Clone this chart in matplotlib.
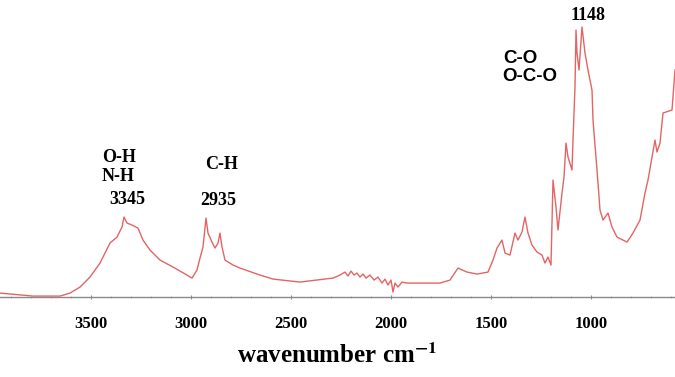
import matplotlib
matplotlib.use("Agg")
import matplotlib.pyplot as plt
from matplotlib.ticker import MultipleLocator

# FTIR spectrum (wavenumber cm-1, arbitrary absorbance units)
wavenumber = [3955, 3790, 3655, 3605, 3555, 3505, 3455, 3405, 3370, 3345, 3335, 3320,
              3295, 3265, 3240, 3205, 3155, 3090, 3020, 2995, 2970, 2955, 2940, 2925,
              2915, 2895, 2880, 2865, 2855, 2845, 2830, 2790, 2755, 2655, 2590, 2455,
              2290, 2255, 2230, 2215, 2200, 2185, 2170, 2155, 2140, 2125, 2105, 2085,
              2065, 2045, 2030, 2015, 2000, 1990, 1980, 1965, 1945, 1920, 1755, 1705,
              1665, 1620, 1570, 1515, 1490, 1470, 1445, 1430, 1405, 1380, 1365, 1345,
              1330, 1315, 1295, 1270, 1245, 1230, 1215, 1200, 1190, 1175, 1165, 1145,
              1135, 1125, 1115, 1095, 1090, 1080, 1075, 1070, 1060, 1045, 1030, 1015,
              995, 990, 970, 955, 940, 915, 895, 870, 820, 790, 755, 730, 715, 680,
              670, 655, 640, 595, 580]
absorbance = [4, 1, 1, 4, 10, 20, 34, 54, 60, 70, 80, 74,
              72, 69, 57, 47, 37, 30, 22, 19, 27, 39, 50, 79,
              64, 55, 49, 54, 64, 50, 37, 32, 29, 22, 18, 15,
              19, 22, 25, 21, 26, 22, 24, 20, 23, 19, 22, 17,
              20, 14, 18, 12, 17, 5, 14, 10, 15, 14, 14, 17,
              29, 25, 23, 25, 37, 49, 57, 44, 42, 64, 57, 65,
              80, 64, 52, 45, 42, 34, 40, 32, 117, 90, 67, 104,
              120, 154, 140, 127, 157, 210, 267, 244, 227, 270, 244, 227,
              207, 177, 127, 87, 77, 84, 70, 60, 55, 64, 77, 104, 117, 157,
              145, 154, 184, 187, 227]

# band labels
labels = ["O-H", "N-H", "3345", "C-H", "2935", "1148"]
label_x = [3445, 3445, 3320, 2845, 2865, 1013]
label_y = [140, 121, 98, 133, 97, 282]
label_ha = ["left", "left", "center", "center", "center", "center"]
tick_values = [3500, 3000, 2500, 2000, 1500, 1000]

plt.rcParams["mathtext.fontset"] = "stix"

fig = plt.figure(figsize=(6.75, 3.77), dpi=100)
ax = fig.add_axes([0, 0.212, 1, 0.788])

ax.plot(wavenumber, absorbance, color="#e46464", lw=1.0)

for txt, x, y, ha in zip(labels, label_x, label_y, label_ha):
    ax.text(x, y, txt, ha=ha, va="center", fontsize=13,
            fontweight="bold", family="Liberation Serif")

ax.text(1440, 239, "C-O", ha="left", va="center", fontsize=13.5,
        fontweight="bold", family="Liberation Sans")
ax.text(1445, 221, "O-C-O", ha="left", va="center", fontsize=13.5,
        fontweight="bold", family="Liberation Sans")

ax.set_xlim(3955, 580)
ax.set_ylim(0, 297)

for s in ["top", "left", "right"]:
    ax.spines[s].set_visible(False)
ax.spines["bottom"].set_color("#8a8a8a")
ax.spines["bottom"].set_linewidth(1.0)

ax.set_xticks(tick_values)
ax.set_xticklabels([str(v) for v in tick_values], fontsize=12,
                   fontweight="bold", family="Liberation Serif")
ax.xaxis.set_minor_locator(MultipleLocator(100))
ax.tick_params(axis="x", which="major", length=3, color="#8a8a8a", pad=12,
               direction="inout")
ax.tick_params(axis="x", which="minor", length=2, color="#aaaaaa",
               direction="inout")
ax.set_yticks([])

ax.set_xlabel(r"wavenumber cm$^{\mathbf{-1}}$", fontsize=18, fontweight="bold",
              family="Liberation Serif", labelpad=8)

fig.savefig("out.png", dpi=100)
